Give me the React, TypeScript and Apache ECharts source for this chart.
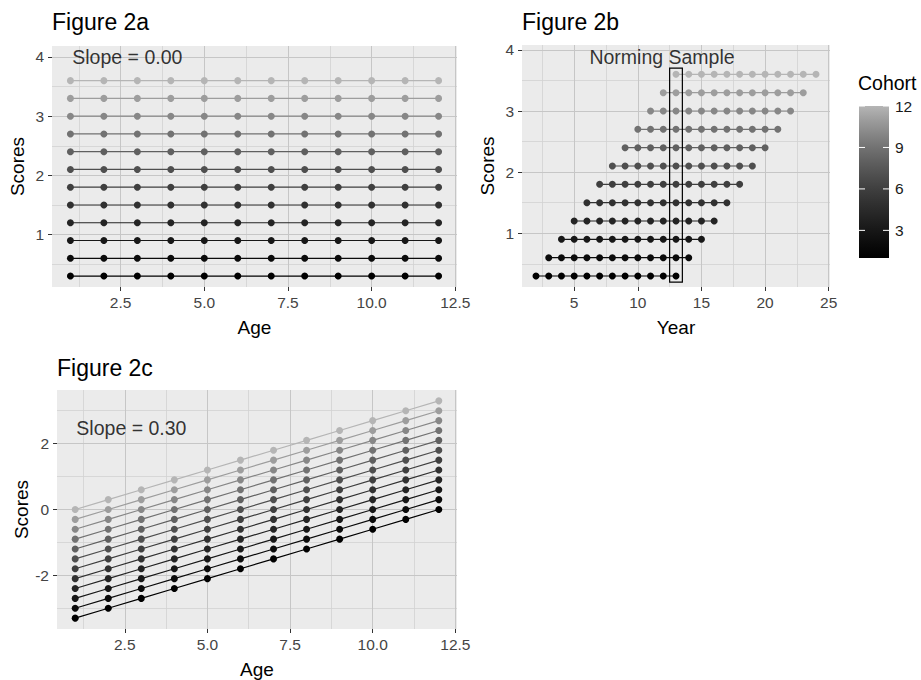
import React, { useEffect, useRef } from "react";
import * as echarts from "echarts";

const FONT = "'Liberation Sans', Arial, Helvetica, sans-serif";

const ages = [1, 2, 3, 4, 5, 6, 7, 8, 9, 10, 11, 12];
const cohorts = [1, 2, 3, 4, 5, 6, 7, 8, 9, 10, 11, 12];
// score level of each cohort (Figures 2a and 2b)
const cohortLevels = [0.3, 0.6, 0.9, 1.2, 1.5, 1.8, 2.1, 2.4, 2.7, 3.0, 3.3, 3.6];
// years observed for each cohort (Figure 2b)
const yearsByCohort = [
  [2, 3, 4, 5, 6, 7, 8, 9, 10, 11, 12, 13],
  [3, 4, 5, 6, 7, 8, 9, 10, 11, 12, 13, 14],
  [4, 5, 6, 7, 8, 9, 10, 11, 12, 13, 14, 15],
  [5, 6, 7, 8, 9, 10, 11, 12, 13, 14, 15, 16],
  [6, 7, 8, 9, 10, 11, 12, 13, 14, 15, 16, 17],
  [7, 8, 9, 10, 11, 12, 13, 14, 15, 16, 17, 18],
  [8, 9, 10, 11, 12, 13, 14, 15, 16, 17, 18, 19],
  [9, 10, 11, 12, 13, 14, 15, 16, 17, 18, 19, 20],
  [10, 11, 12, 13, 14, 15, 16, 17, 18, 19, 20, 21],
  [11, 12, 13, 14, 15, 16, 17, 18, 19, 20, 21, 22],
  [12, 13, 14, 15, 16, 17, 18, 19, 20, 21, 22, 23],
  [13, 14, 15, 16, 17, 18, 19, 20, 21, 22, 23, 24],
];
// scores by cohort and age (Figure 2c)
const fig2cScores = [
  [-3.3, -3.0, -2.7, -2.4, -2.1, -1.8, -1.5, -1.2, -0.9, -0.6, -0.3, 0.0],
  [-3.0, -2.7, -2.4, -2.1, -1.8, -1.5, -1.2, -0.9, -0.6, -0.3, 0.0, 0.3],
  [-2.7, -2.4, -2.1, -1.8, -1.5, -1.2, -0.9, -0.6, -0.3, 0.0, 0.3, 0.6],
  [-2.4, -2.1, -1.8, -1.5, -1.2, -0.9, -0.6, -0.3, 0.0, 0.3, 0.6, 0.9],
  [-2.1, -1.8, -1.5, -1.2, -0.9, -0.6, -0.3, 0.0, 0.3, 0.6, 0.9, 1.2],
  [-1.8, -1.5, -1.2, -0.9, -0.6, -0.3, 0.0, 0.3, 0.6, 0.9, 1.2, 1.5],
  [-1.5, -1.2, -0.9, -0.6, -0.3, 0.0, 0.3, 0.6, 0.9, 1.2, 1.5, 1.8],
  [-1.2, -0.9, -0.6, -0.3, 0.0, 0.3, 0.6, 0.9, 1.2, 1.5, 1.8, 2.1],
  [-0.9, -0.6, -0.3, 0.0, 0.3, 0.6, 0.9, 1.2, 1.5, 1.8, 2.1, 2.4],
  [-0.6, -0.3, 0.0, 0.3, 0.6, 0.9, 1.2, 1.5, 1.8, 2.1, 2.4, 2.7],
  [-0.3, 0.0, 0.3, 0.6, 0.9, 1.2, 1.5, 1.8, 2.1, 2.4, 2.7, 3.0],
  [0.0, 0.3, 0.6, 0.9, 1.2, 1.5, 1.8, 2.1, 2.4, 2.7, 3.0, 3.3],
];
const cohortColors = [
  "#000000", "#0b0b0b", "#171717", "#242424", "#313131", "#3f3f3f",
  "#4f4f4f", "#606060", "#727272", "#878787", "#9d9d9d", "#b5b5b5",
];

const ageTicks = [2.5, 5, 7.5, 10, 12.5];
const ageMinor = [1.25, 3.75, 6.25, 8.75, 11.25];
const yearTicks = [5, 10, 15, 20, 25];
const yearMinor = [2.5, 7.5, 12.5, 17.5, 22.5];
const scoreTicksAB = [1, 2, 3, 4];
const scoreMinorAB = [0.5, 1.5, 2.5, 3.5];
const scoreTicksC = [-2, 0, 2];
const scoreMinorC = [-3, -1, 1, 3];
const legendTicks = [3, 6, 9, 12];

const BG = "#ebebeb";
const MAJOR = "#c6c6c6";
const MINOR = "#d2d2d2";
const TICK_COLOR = "#333333";
const LABEL_COLOR = "#444444";

function gridLines(idx: number, xMajor: number[], xMinor: number[], yMajor: number[], yMinor: number[]) {
  const data: any[] = [];
  xMinor.forEach((v) => data.push({ xAxis: v, lineStyle: { color: MINOR, width: 0.8, type: "solid" } }));
  yMinor.forEach((v) => data.push({ yAxis: v, lineStyle: { color: MINOR, width: 0.8, type: "solid" } }));
  xMajor.forEach((v) => data.push({ xAxis: v, lineStyle: { color: MAJOR, width: 1, type: "solid" } }));
  yMajor.forEach((v) => data.push({ yAxis: v, lineStyle: { color: MAJOR, width: 1, type: "solid" } }));
  return {
    type: "line",
    xAxisIndex: idx,
    yAxisIndex: idx,
    data: [],
    silent: true,
    z: 0,
    markLine: {
      z: 0,
      silent: true,
      symbol: ["none", "none"],
      label: { show: false },
      emphasis: { disabled: true },
      animation: false,
      data,
    },
  };
}

function textSeries(idx: number, x: number, y: number, text: string) {
  return {
    type: "scatter",
    xAxisIndex: idx,
    yAxisIndex: idx,
    data: [[x, y]],
    symbolSize: 0,
    silent: true,
    z: 8,
    label: {
      show: true,
      position: "inside",
      formatter: text,
      fontSize: 19.5,
      fontFamily: FONT,
      color: "#000",
    },
  };
}

function xAxisDef(idx: number, min: number, max: number, ticks: number[], name: string, fmt: (v: number) => string) {
  return {
    type: "value",
    gridIndex: idx,
    min,
    max,
    name,
    nameLocation: "middle",
    nameGap: 31,
    nameTextStyle: { fontSize: 19, fontFamily: FONT, color: "#000" },
    axisLine: { show: false, onZero: false },
    axisTick: { show: true, length: 4, customValues: ticks, lineStyle: { color: TICK_COLOR, width: 1 } },
    axisLabel: {
      customValues: ticks,
      margin: 7,
      fontSize: 15.5,
      fontFamily: FONT,
      color: LABEL_COLOR,
      formatter: (v: number) => fmt(v),
      showMinLabel: true,
      showMaxLabel: true,
    },
    splitLine: { show: false },
  };
}

function yAxisDef(idx: number, min: number, max: number, ticks: number[]) {
  return {
    type: "value",
    gridIndex: idx,
    min,
    max,
    name: "Scores",
    nameLocation: "middle",
    nameGap: 25,
    nameTextStyle: { fontSize: 19, fontFamily: FONT, color: "#000" },
    axisLine: { show: false, onZero: false },
    axisTick: { show: true, length: 4, customValues: ticks, lineStyle: { color: TICK_COLOR, width: 1 } },
    axisLabel: {
      customValues: ticks,
      margin: 8,
      fontSize: 15.5,
      fontFamily: FONT,
      color: LABEL_COLOR,
      formatter: (v: number) => String(v),
    },
    splitLine: { show: false },
  };
}

export default function App() {
  const ref = useRef<HTMLDivElement>(null);

  useEffect(() => {
    document.body.style.margin = "0";
    if (!ref.current) return;
    const chart = echarts.init(ref.current, undefined, { renderer: "svg" });

    const grids = [
      { left: 52, top: 46, width: 405, height: 241 },
      { left: 522, top: 45, width: 308, height: 242 },
      { left: 57, top: 390, width: 400, height: 243 },
    ];

    const series: any[] = [];
    series.push(gridLines(0, ageTicks, ageMinor, scoreTicksAB, scoreMinorAB));
    series.push(gridLines(1, yearTicks, yearMinor, scoreTicksAB, scoreMinorAB));
    series.push(gridLines(2, ageTicks, ageMinor, scoreTicksC, scoreMinorC));

    const lineCommon = {
      type: "line",
      symbol: "circle",
      symbolSize: 7,
      silent: true,
      z: 3,
    };

    cohorts.forEach((c, i) => {
      const color = cohortColors[i];
      series.push({
        ...lineCommon,
        name: "Cohort " + c,
        xAxisIndex: 0,
        yAxisIndex: 0,
        data: ages.map((a) => [a, cohortLevels[i]]),
        itemStyle: { color },
        lineStyle: { color, width: 1.2 },
      });
      series.push({
        ...lineCommon,
        name: "Cohort " + c,
        xAxisIndex: 1,
        yAxisIndex: 1,
        data: yearsByCohort[i].map((y) => [y, cohortLevels[i]]),
        itemStyle: { color },
        lineStyle: { color, width: 1.2 },
      });
      series.push({
        ...lineCommon,
        name: "Cohort " + c,
        xAxisIndex: 2,
        yAxisIndex: 2,
        data: ages.map((a, j) => [a, fig2cScores[i][j]]),
        itemStyle: { color },
        lineStyle: { color, width: 1.2 },
      });
    });

    // Norming sample box
    series.push({
      type: "line",
      xAxisIndex: 1,
      yAxisIndex: 1,
      data: [],
      silent: true,
      z: 6,
      markArea: {
        z: 6,
        silent: true,
        itemStyle: { color: "rgba(0,0,0,0)", borderColor: "#000", borderWidth: 1.2 },
        label: { show: false },
        data: [[{ coord: [12.5, 0.2] }, { coord: [13.5, 3.7] }]],
      },
    });

    series.push(textSeries(0, 2.7, 4, "Slope = 0.00"));
    series.push(textSeries(1, 11.9, 3.88, "Norming Sample"));
    series.push(textSeries(2, 2.7, 2.47, "Slope = 0.30"));

    // Colour bar legend
    const barX = 859, barY = 106, barW = 30, barH = 152;
    const stops = cohortColors.map((col, i) => ({ offset: i / (cohortColors.length - 1), color: col }));
    const graphics: any[] = [
      {
        type: "text",
        left: 858,
        top: 73,
        style: { text: "Cohort", fontSize: 19.5, fontFamily: FONT, fill: "#000" },
      },
      {
        type: "rect",
        shape: { x: barX, y: barY, width: barW, height: barH },
        style: {
          fill: { type: "linear", x: 0, y: 1, x2: 0, y2: 0, colorStops: stops },
        },
      },
    ];
    legendTicks.forEach((v) => {
      const y = barY + barH - ((v - 1) / 11) * barH;
      graphics.push({
        type: "line",
        shape: { x1: barX, y1: y, x2: barX + 6, y2: y },
        style: { stroke: "#fff", lineWidth: 1 },
      });
      graphics.push({
        type: "line",
        shape: { x1: barX + barW - 6, y1: y, x2: barX + barW, y2: y },
        style: { stroke: "#fff", lineWidth: 1 },
      });
      graphics.push({
        type: "text",
        x: barX + barW + 6,
        y,
        style: {
          text: String(v),
          fontSize: 15.5,
          fontFamily: FONT,
          fill: "#1a1a1a",
          verticalAlign: "middle",
          align: "left",
        },
      });
    });

    chart.setOption({
      animation: false,
      backgroundColor: "#ffffff",
      textStyle: { fontFamily: FONT },
      title: [
        { text: "Figure 2a", left: 52, top: 10, padding: 0, textStyle: { fontSize: 23, fontWeight: "normal", color: "#000", fontFamily: FONT } },
        { text: "Figure 2b", left: 522, top: 10, padding: 0, textStyle: { fontSize: 23, fontWeight: "normal", color: "#000", fontFamily: FONT } },
        { text: "Figure 2c", left: 57, top: 356, padding: 0, textStyle: { fontSize: 23, fontWeight: "normal", color: "#000", fontFamily: FONT } },
      ],
      grid: grids.map((g) => ({ ...g, show: true, backgroundColor: BG, borderWidth: 0, containLabel: false })),
      xAxis: [
        xAxisDef(0, 0.45, 12.55, ageTicks, "Age", (v) => v.toFixed(1)),
        xAxisDef(1, 0.9, 25.1, yearTicks, "Year", (v) => String(v)),
        xAxisDef(2, 0.45, 12.55, ageTicks, "Age", (v) => v.toFixed(1)),
      ],
      yAxis: [
        yAxisDef(0, 0.115, 4.185, scoreTicksAB),
        yAxisDef(1, 0.12, 4.08, scoreTicksAB),
        yAxisDef(2, -3.63, 3.63, scoreTicksC),
      ],
      series,
      graphic: graphics,
    });

    return () => {
      chart.dispose();
    };
  }, []);

  return <div ref={ref} style={{ width: 921, height: 680 }} />;
}
